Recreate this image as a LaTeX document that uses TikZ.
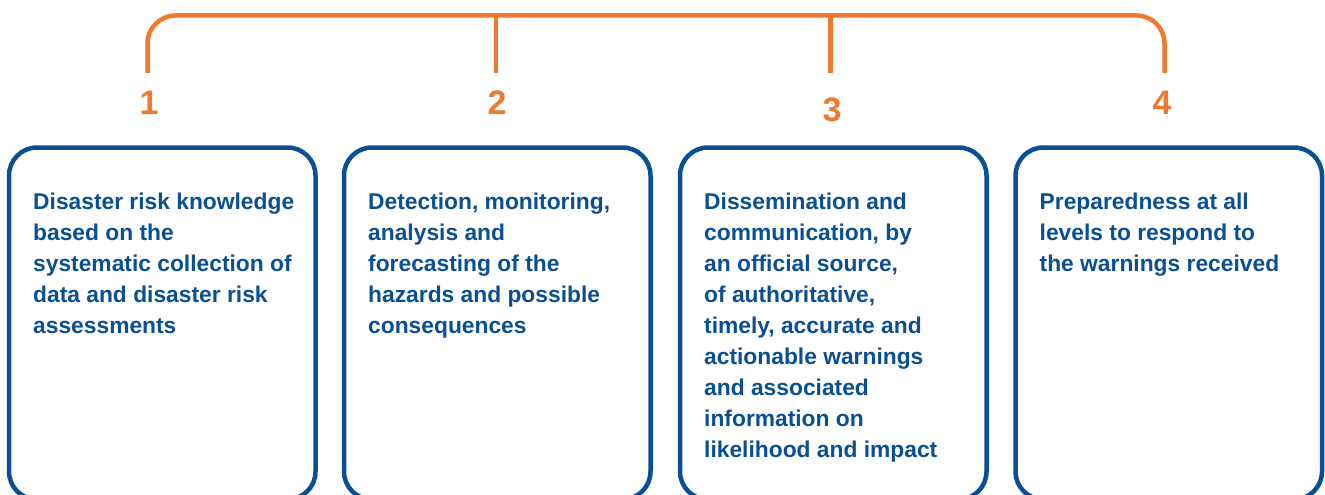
\documentclass[tikz,border=0pt]{standalone}
\usepackage{fontspec}
\setmainfont{Liberation Sans}
\definecolor{ewsblue}{HTML}{0B4F93}
\definecolor{ewsorange}{HTML}{EE7A30}
\begin{document}
\begin{tikzpicture}[x=1pt,y=-1pt,
  pillar/.style={draw=ewsblue, line width=4.5pt, rounded corners=28pt,
    minimum width=306.5pt, minimum height=352pt, anchor=north west,
    inner sep=0pt, outer sep=0pt},
  pillartext/.style={anchor=north west, inner sep=0pt, align=left, text=ewsblue,
    font=\fontsize{22.8}{31}\selectfont\bfseries},
  num/.style={inner sep=0pt, text=ewsorange, font=\fontsize{34}{40}\selectfont\bfseries},
  bracket/.style={draw=ewsorange, line width=4.5pt}]
  \useasboundingbox (0,0) rectangle (1325,495);
  \clip (0,0) rectangle (1325,495);

  % four pillar boxes (bottom edges run past the page)
  \node[pillar] (b1) at (9,147.5) {};
  \node[pillar] (b2) at (344,147.5) {};
  \node[pillar] (b3) at (680,147.5) {};
  \node[pillar] (b4) at (1015.5,147.5) {};

  \node[pillartext] (t1) at ([shift={(24,45.5)}]b1.north west)
    {Disaster risk knowledge\\based on the\\systematic collection of\\data and disaster risk\\assessments};
  \node[pillartext] (t2) at ([shift={(24,45.5)}]b2.north west)
    {Detection, monitoring,\\analysis and\\forecasting of the\\hazards and possible\\consequences};
  \node[pillartext] (t3) at ([shift={(24,45.5)}]b3.north west)
    {Dissemination and\\communication, by\\an official source,\\of authoritative,\\timely, accurate and\\actionable warnings\\and associated\\information on\\likelihood and impact};
  \node[pillartext] (t4) at ([shift={(24,45.5)}]b4.north west)
    {Preparedness at all\\levels to respond to\\the warnings received};

  % numbers
  \node[num] (n1) at (149,103) {1};
  \node[num] (n2) at (497,103) {2};
  \node[num] (n3) at (832,110) {3};
  \node[num] (n4) at (1162,103) {4};

  % bracket joining the four pillars
  \coordinate (k1) at (147.5,73);
  \coordinate (k2) at (496,73);
  \coordinate (k3) at (830.5,73);
  \coordinate (k4) at (1164.5,73);
  \coordinate (top) at (0,15.5);
  \draw[bracket, rounded corners=28pt] (k1) -- (k1 |- top) -- (k4 |- top) -- (k4);
  \draw[bracket] (k2 |- top) -- (k2);
  \draw[bracket] (k3 |- top) -- (k3);
\end{tikzpicture}
\end{document}
